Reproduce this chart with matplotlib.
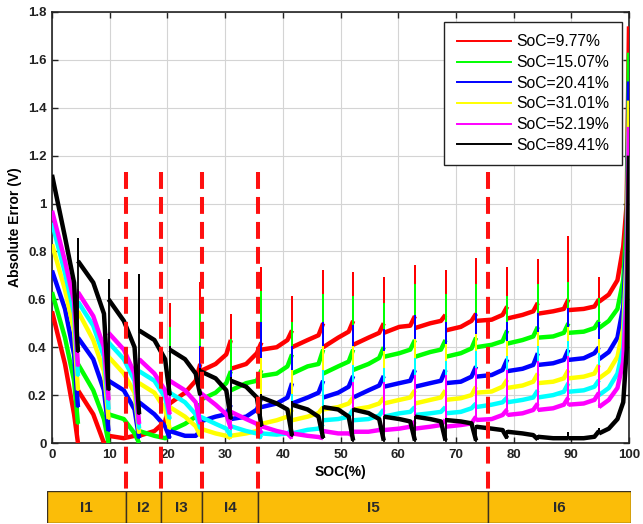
import numpy as np
import matplotlib
matplotlib.use('Agg')
import matplotlib.pyplot as plt
from matplotlib.lines import Line2D
from matplotlib.patches import Rectangle

plt.rcParams['font.family'] = ['Liberation Sans', 'DejaVu Sans']

# pulse positions (SOC %) where every curve jumps
pulses = [4.5, 9.8, 15.1, 20.4, 25.7, 31.0, 36.3, 41.6, 47.0, 52.2,
          57.5, 62.9, 68.2, 73.5, 78.9, 84.2, 89.5, 94.8]
# where inside each segment the four read values sit (0 = start, 1 = end)
seg_frac = [0.0, 0.5, 0.85, 1.0]
# last segment (94.8 -> 100) read at these SOC values
tail_soc = [94.8, 96.5, 98.0, 99.0, 99.6, 100.0]

# per curve: 18 segments x [start, middle, late, end], pulse peaks, tail values
red_seg = [[0.55, 0.33, 0.12, 0.0], [0.22, 0.12, 0.0, 0.0], [0.03, 0.02, 0.03, 0.05],
           [0.03, 0.05, 0.09, 0.17], [0.165, 0.21, 0.26, 0.33], [0.30, 0.33, 0.37, 0.43],
           [0.31, 0.33, 0.375, 0.42], [0.39, 0.40, 0.43, 0.47], [0.40, 0.43, 0.45, 0.50],
           [0.40, 0.44, 0.465, 0.51], [0.41, 0.44, 0.46, 0.50], [0.46, 0.485, 0.49, 0.53],
           [0.48, 0.50, 0.51, 0.535], [0.47, 0.485, 0.51, 0.54], [0.51, 0.515, 0.535, 0.57],
           [0.52, 0.535, 0.55, 0.585], [0.54, 0.55, 0.56, 0.60], [0.555, 0.56, 0.57, 0.60]]
red_peak = [0.22, 0.03, 0.10, 0.58, 0.67, 0.535, 0.73, 0.61, 0.72, 0.71,
            0.69, 0.74, 0.72, 0.77, 0.73, 0.765, 0.86, 0.69]
red_tail = [0.59, 0.62, 0.68, 0.82, 1.0, 1.74]

green_seg = [[0.63, 0.44, 0.26, 0.08], [0.33, 0.22, 0.10, 0.0], [0.12, 0.10, 0.04, 0.0],
             [0.05, 0.03, 0.02, 0.03], [0.05, 0.08, 0.11, 0.165], [0.18, 0.21, 0.25, 0.30],
             [0.22, 0.25, 0.26, 0.305], [0.28, 0.29, 0.32, 0.37], [0.29, 0.32, 0.33, 0.39],
             [0.29, 0.32, 0.34, 0.39], [0.305, 0.33, 0.355, 0.40], [0.36, 0.375, 0.39, 0.43],
             [0.36, 0.38, 0.39, 0.43], [0.36, 0.375, 0.395, 0.44], [0.40, 0.41, 0.425, 0.47],
             [0.415, 0.43, 0.445, 0.485], [0.44, 0.445, 0.46, 0.50], [0.46, 0.465, 0.48, 0.51]]
green_peak = [0.32, 0.12, 0.05, 0.48, 0.55, 0.43, 0.63, 0.50, 0.62, 0.61,
              0.58, 0.66, 0.62, 0.66, 0.61, 0.66, 0.67, 0.60]
green_tail = [0.48, 0.51, 0.56, 0.68, 0.92, 1.63]

blue_seg = [[0.72, 0.56, 0.37, 0.15], [0.44, 0.35, 0.22, 0.05], [0.26, 0.22, 0.14, 0.02],
            [0.17, 0.12, 0.07, 0.02], [0.05, 0.03, 0.03, 0.05], [0.09, 0.11, 0.12, 0.16],
            [0.10, 0.11, 0.14, 0.19], [0.15, 0.165, 0.19, 0.25], [0.165, 0.19, 0.21, 0.26],
            [0.19, 0.21, 0.235, 0.28], [0.19, 0.22, 0.24, 0.28], [0.235, 0.25, 0.26, 0.305],
            [0.235, 0.25, 0.26, 0.305], [0.25, 0.256, 0.277, 0.32], [0.277, 0.284, 0.305, 0.35],
            [0.30, 0.31, 0.326, 0.375], [0.326, 0.333, 0.347, 0.39], [0.347, 0.354, 0.375, 0.40]]
blue_peak = [0.44, 0.26, 0.17, 0.08, 0.40, 0.30, 0.50, 0.40, 0.50, 0.49,
             0.47, 0.53, 0.50, 0.54, 0.50, 0.54, 0.56, 0.50]
blue_tail = [0.35, 0.38, 0.44, 0.57, 0.85, 1.51]

yellow_seg = [[0.83, 0.64, 0.47, 0.22], [0.55, 0.43, 0.30, 0.10], [0.36, 0.29, 0.21, 0.04],
              [0.25, 0.21, 0.14, 0.06], [0.15, 0.11, 0.07, 0.03], [0.06, 0.04, 0.03, 0.02],
              [0.03, 0.04, 0.05, 0.08], [0.08, 0.095, 0.11, 0.14], [0.095, 0.11, 0.125, 0.15],
              [0.14, 0.15, 0.165, 0.19], [0.14, 0.15, 0.165, 0.19], [0.165, 0.18, 0.19, 0.22],
              [0.165, 0.18, 0.19, 0.22], [0.18, 0.187, 0.20, 0.235], [0.21, 0.215, 0.235, 0.265],
              [0.23, 0.24, 0.256, 0.29], [0.25, 0.256, 0.27, 0.305], [0.27, 0.277, 0.29, 0.326]]
yellow_peak = [0.56, 0.36, 0.25, 0.15, 0.08, 0.12, 0.35, 0.30, 0.40, 0.40,
               0.38, 0.43, 0.41, 0.45, 0.42, 0.46, 0.48, 0.43]
yellow_tail = [0.27, 0.30, 0.36, 0.48, 0.78, 1.43]

cyan_seg = [[0.92, 0.71, 0.54, 0.28], [0.59, 0.49, 0.36, 0.14], [0.42, 0.35, 0.26, 0.06],
            [0.30, 0.26, 0.19, 0.10], [0.21, 0.17, 0.12, 0.06], [0.11, 0.08, 0.06, 0.03],
            [0.07, 0.05, 0.04, 0.02], [0.04, 0.035, 0.04, 0.055], [0.04, 0.055, 0.06, 0.08],
            [0.095, 0.10, 0.11, 0.14], [0.095, 0.10, 0.115, 0.14], [0.11, 0.124, 0.13, 0.15],
            [0.117, 0.124, 0.13, 0.15], [0.124, 0.13, 0.145, 0.165], [0.15, 0.16, 0.17, 0.19],
            [0.17, 0.18, 0.19, 0.22], [0.19, 0.20, 0.214, 0.25], [0.214, 0.22, 0.235, 0.263]]
cyan_peak = [0.60, 0.42, 0.30, 0.21, 0.11, 0.07, 0.10, 0.20, 0.30, 0.32,
             0.31, 0.35, 0.34, 0.38, 0.36, 0.40, 0.42, 0.37]
cyan_tail = [0.20, 0.23, 0.29, 0.40, 0.70, 1.30]

magenta_seg = [[0.97, 0.76, 0.59, 0.32], [0.63, 0.53, 0.40, 0.18], [0.46, 0.39, 0.29, 0.08],
               [0.35, 0.29, 0.22, 0.12], [0.26, 0.22, 0.17, 0.08], [0.21, 0.16, 0.12, 0.06],
               [0.13, 0.10, 0.08, 0.04], [0.07, 0.05, 0.04, 0.02], [0.04, 0.03, 0.025, 0.02],
               [0.05, 0.04, 0.04, 0.03], [0.047, 0.047, 0.054, 0.07], [0.054, 0.06, 0.068, 0.09],
               [0.06, 0.068, 0.075, 0.096], [0.068, 0.075, 0.082, 0.11], [0.096, 0.10, 0.117, 0.14],
               [0.117, 0.124, 0.138, 0.165], [0.138, 0.145, 0.16, 0.19], [0.16, 0.165, 0.18, 0.21]]
magenta_peak = [0.64, 0.46, 0.35, 0.26, 0.21, 0.13, 0.07, 0.04, 0.05, 0.25,
                0.25, 0.28, 0.28, 0.31, 0.30, 0.34, 0.36, 0.32]
magenta_tail = [0.15, 0.18, 0.23, 0.34, 0.62, 1.32]

black_seg = [[1.12, 0.86, 0.67, 0.38], [0.76, 0.67, 0.54, 0.22], [0.60, 0.51, 0.40, 0.12],
             [0.47, 0.43, 0.35, 0.20], [0.39, 0.35, 0.29, 0.20], [0.30, 0.27, 0.22, 0.10],
             [0.26, 0.235, 0.19, 0.07], [0.19, 0.165, 0.14, 0.03], [0.16, 0.14, 0.11, 0.02],
             [0.15, 0.14, 0.11, 0.01], [0.14, 0.125, 0.10, 0.01], [0.11, 0.10, 0.09, 0.01],
             [0.11, 0.10, 0.09, 0.01], [0.096, 0.09, 0.082, 0.01], [0.068, 0.06, 0.054, 0.02],
             [0.047, 0.04, 0.033, 0.015], [0.026, 0.02, 0.02, 0.02], [0.02, 0.02, 0.026, 0.05]]
black_peak = [0.85, 0.68, 0.70, 0.40, 0.31, 0.27, 0.20, 0.17, 0.15, 0.14,
              0.11, 0.11, 0.10, 0.07, 0.05, 0.03, 0.04, 0.06]
black_tail = [0.04, 0.06, 0.10, 0.17, 0.39, 1.20]

series = [('SoC=9.77%', '#ff0000', red_seg, red_peak, red_tail),
          ('SoC=15.07%', '#00ff00', green_seg, green_peak, green_tail),
          ('SoC=20.41%', '#0000ff', blue_seg, blue_peak, blue_tail),
          ('SoC=31.01%', '#ffff00', yellow_seg, yellow_peak, yellow_tail),
          (None, '#00ffff', cyan_seg, cyan_peak, cyan_tail),
          ('SoC=52.19%', '#ff00ff', magenta_seg, magenta_peak, magenta_tail),
          ('SoC=89.41%', '#000000', black_seg, black_peak, black_tail)]

# interval boundaries (red dashed lines) and bar labels
bounds = [12.8, 18.9, 26.0, 35.7, 75.6]
intervals = ['I1', 'I2', 'I3', 'I4', 'I5', 'I6']


def draw_curve(ax, color, seg, peak, tail):
    starts = [0.0] + pulses[:-1]
    # relaxation parts: thick (the noisy band of the measurement)
    for k, vals in enumerate(seg):
        x0, x1 = starts[k], pulses[k]
        xs = [x0 + f * (x1 - x0) for f in seg_frac]
        ax.plot(xs, vals, color=color, lw=3.2, solid_capstyle='butt', zorder=3)
    ax.plot(tail_soc, tail, color=color, lw=3.2, solid_capstyle='butt', zorder=3)
    # pulse spikes: thin vertical strokes
    nxt = [s[0] for s in seg[1:]] + [tail[0]]
    for k, x1 in enumerate(pulses):
        ax.plot([x1, x1, x1], [seg[k][-1], peak[k], nxt[k]], color=color,
                lw=1.3, zorder=3)


W, H = 643, 524
fig = plt.figure(figsize=(W / 100, H / 100), dpi=100)
ax = fig.add_axes([52 / W, 1 - 443 / H, 577 / W, 431 / H])

handles = []
for label, color, seg, peak, tail in series:
    draw_curve(ax, color, seg, peak, tail)
    if label is not None:
        handles.append(Line2D([0], [0], color=color, lw=1.4))

for b in bounds:
    ax.plot([b, b], [1.13, -0.22], color='#ff1010', lw=2.9, dashes=(4.2, 2.0),
            clip_on=False, zorder=5)

ax.set_xlim(0, 100)
ax.set_ylim(0, 1.8)
ax.set_xticks(np.arange(0, 101, 10))
ax.set_xticklabels([str(v) for v in range(0, 101, 10)], fontweight='bold')
yt = [0, 0.2, 0.4, 0.6, 0.8, 1.0, 1.2, 1.4, 1.6, 1.8]
ax.set_yticks(yt)
ax.set_yticklabels(['0', '0.2', '0.4', '0.6', '0.8', '1', '1.2', '1.4', '1.6', '1.8'],
                   fontweight='bold')
ax.tick_params(direction='in', top=True, right=True, length=4, width=1,
               labelsize=9.5, pad=4, colors='#222222')
ax.grid(True, color='#d4d4d4', lw=0.8)
ax.set_axisbelow(True)
for sp in ax.spines.values():
    sp.set_linewidth(1.2)
    sp.set_color('#222222')

ax.set_xlabel('SOC(%)', fontsize=10, fontweight='bold', labelpad=3)
ax.set_ylabel('Absolute Error (V)', fontsize=10, fontweight='bold', labelpad=4)

leg = ax.legend(handles, [s[0] for s in series if s[0] is not None],
                loc='upper right', bbox_to_anchor=(0.988, 0.977), borderaxespad=0,
                fontsize=11.3, handlelength=3.45, handletextpad=0.35,
                labelspacing=0.36, borderpad=0.8, fancybox=False, framealpha=1)
leg.get_frame().set_edgecolor('#222222')
leg.get_frame().set_linewidth(1.0)
leg.set_zorder(10)

# interval bar below the axis
bx = fig.add_axes([47 / W, 1 - 523 / H, 584 / W, 32 / H])
x_left, x_right = -0.87, 100.35
bx.set_xlim(x_left, x_right)
bx.set_ylim(0, 1)
edges = [x_left] + bounds + [x_right]
for i, name in enumerate(intervals):
    bx.add_patch(Rectangle((edges[i], 0), edges[i + 1] - edges[i], 1,
                           facecolor='#fbbd08', edgecolor='#3a3020', lw=1.0))
    bx.text((edges[i] + edges[i + 1]) / 2, 0.47, name, ha='center', va='center',
            fontsize=11, fontweight='bold', color='#2a2a2a')
bx.axis('off')

fig.savefig('out.png', dpi=100)
